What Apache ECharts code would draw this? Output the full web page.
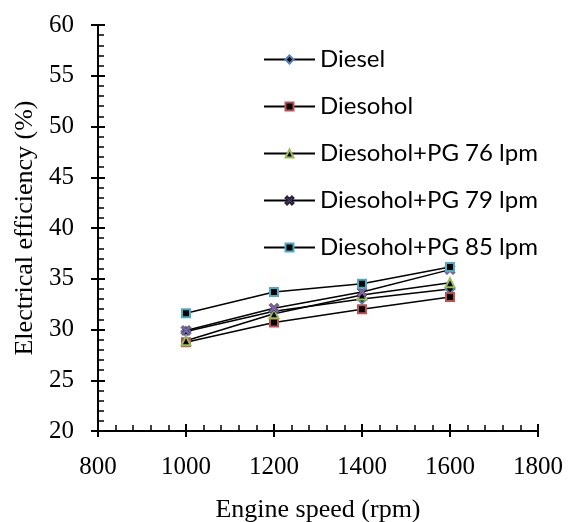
<!DOCTYPE html>
<html>
<head>
<meta charset="utf-8">
<script src="https://cdn.jsdelivr.net/npm/echarts@6/dist/echarts.min.js"></script>
<style>html,body{margin:0;padding:0;background:#fff;}#c{width:569px;height:522px;}</style>
</head>
<body>
<div id="c"></div>
<script>
var speeds = [1000, 1200, 1400, 1600];
var diesel = [29.8, 31.8, 33.0, 34.0];
var diesohol = [28.75, 30.7, 32.0, 33.2];
var pg76 = [28.9, 31.55, 33.4, 34.6];
var pg79 = [29.9, 32.1, 33.7, 35.9];
var pg85 = [31.6, 33.7, 34.5, 36.15];
var seriesNames = ['Diesel', 'Diesohol', 'Diesohol+PG 76 lpm', 'Diesohol+PG 79 lpm', 'Diesohol+PG 85 lpm'];
var xTicks = {min: 800, max: 1800, interval: 200};
var yTicks = {min: 20, max: 60, interval: 5};

function pairs(vals) { return speeds.map(function (s, i) { return [s, vals[i]]; }); }

var serif = "Liberation Serif";
var chart = echarts.init(document.getElementById('c'), null, {renderer: 'canvas'});
var xPath = 'path://M0,2 L2,0 L5,3 L8,0 L10,2 L7,5 L10,8 L8,10 L5,7 L2,10 L0,8 L3,5 Z';
var markers = [
  {symbol: 'diamond', size: 9, color: '#000', border: '#4F81BD', bw: 2},
  {symbol: 'rect', size: 8, color: '#000', border: '#C0504D', bw: 2},
  {symbol: 'triangle', size: 9, color: '#000', border: '#9BBB59', bw: 2},
  {symbol: xPath, size: 10, color: '#8064A2', border: '#2a2238', bw: 0.6},
  {symbol: 'rect', size: 8, color: '#000', border: '#4BACC6', bw: 2}
];
var allData = [diesel, diesohol, pg76, pg79, pg85];

var series = allData.map(function (d, i) {
  var m = markers[i];
  return {
    name: seriesNames[i], type: 'line', data: pairs(d),
    symbol: m.symbol, symbolSize: m.size,
    lineStyle: {color: '#000', width: 1.5},
    itemStyle: {color: m.color, borderColor: m.border, borderWidth: m.bw},
    emphasis: {disabled: true}, animation: false
  };
});

function baseAxis(extra) {
  return Object.assign({
    type: 'value', gridIndex: 0,
    splitLine: {show: false}
  }, extra);
}
function plain(v) { return '{t|' + String(v) + '}'; }
var tickRich = {t: {fontFamily: serif, fontSize: 25, color: '#000'}};

var option = {
  backgroundColor: '#fff',
  animation: false,
  textStyle: {fontFamily: serif},
  grid: {left: 98, right: 31, top: 25, bottom: 91, containLabel: false, outerBoundsMode: 'none'},
  legend: {
    orient: 'vertical', left: 258, top: 41,
    itemWidth: 51, itemHeight: 10, itemGap: 20,
    textStyle: {fontFamily: 'Lato', fontSize: 24, color: '#000', lineHeight: 27},
    data: seriesNames
  },
  xAxis: [
    baseAxis({
      min: xTicks.min, max: xTicks.max, interval: xTicks.interval,
      name: 'Engine speed (rpm)', nameLocation: 'middle', nameGap: 66,
      nameTextStyle: {fontFamily: serif, fontSize: 26, color: '#000'},
      axisLine: {show: true, onZero: false, lineStyle: {color: '#000', width: 2}},
      axisTick: {show: true, inside: false, length: 6, lineStyle: {color: '#000', width: 2}},
      axisLabel: {fontFamily: serif, fontSize: 25, color: '#000', margin: 24, formatter: plain, rich: tickRich}
    }),
    baseAxis({
      min: xTicks.min, max: xTicks.max, interval: xTicks.interval, position: 'bottom',
      axisLine: {show: false, onZero: false},
      axisTick: {show: true, inside: true, length: 7, lineStyle: {color: '#000', width: 2}},
      minorTick: {show: true, splitNumber: 5, length: 6, lineStyle: {color: '#000', width: 1.5}},
      axisLabel: {show: false}
    })
  ],
  yAxis: [
    baseAxis({
      min: yTicks.min, max: yTicks.max, interval: yTicks.interval,
      name: 'Electrical efficiency (%)', nameLocation: 'middle', nameGap: 54,
      nameTextStyle: {fontFamily: serif, fontSize: 26, color: '#000'},
      axisLine: {show: true, onZero: false, lineStyle: {color: '#000', width: 2}},
      axisTick: {show: true, inside: false, length: 7, lineStyle: {color: '#000', width: 2}},
      axisLabel: {fontFamily: serif, fontSize: 25, color: '#000', margin: 24, formatter: plain, rich: tickRich}
    }),
    baseAxis({
      min: yTicks.min, max: yTicks.max, interval: yTicks.interval, position: 'left',
      axisLine: {show: false, onZero: false},
      axisTick: {show: true, inside: true, length: 7, lineStyle: {color: '#000', width: 2}},
      minorTick: {show: true, splitNumber: 5, length: 6, lineStyle: {color: '#000', width: 1.5}},
      axisLabel: {show: false}
    })
  ],
  series: series
};
chart.setOption(option);
</script>
</body>
</html>
